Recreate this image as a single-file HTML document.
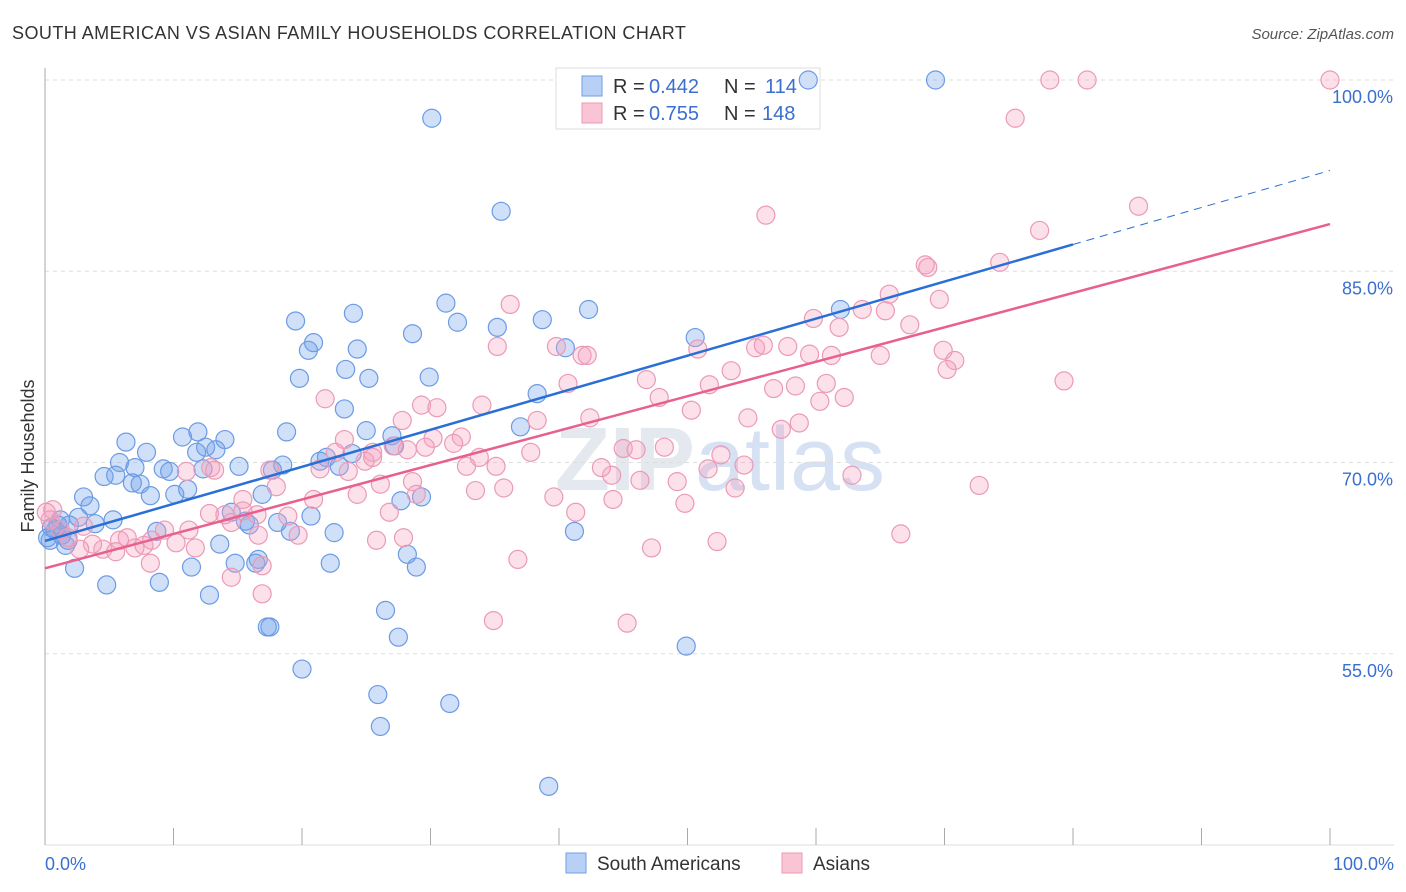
<!DOCTYPE html>
<html><head><meta charset="utf-8"><style>
body{margin:0;background:#fff;font-family:"Liberation Sans",sans-serif}
svg{display:block}
</style></head><body>
<svg id="chart" width="1406" height="892">
<text x="12" y="39" font-size="18" fill="#333" letter-spacing="0.45">SOUTH AMERICAN VS ASIAN FAMILY HOUSEHOLDS CORRELATION CHART</text>
<text x="1394" y="39" font-size="15" fill="#555" text-anchor="end" font-style="italic">Source: ZipAtlas.com</text>
<text x="720" y="490" font-size="90" fill="#e4e8ef" text-anchor="middle" font-weight="bold">ZIP<tspan font-weight="normal" fill="#d6e2f3">atlas</tspan></text>
<g id="grid"></g>
<g id="axes"></g>
<g>
<rect x="556" y="68" width="264" height="61" fill="#fff" stroke="#ddd"/>
<rect x="582" y="76" width="20" height="20" fill="#b8d0f5" stroke="#6f9ee6"/>
<rect x="582" y="103" width="20" height="20" fill="#f9c5d5" stroke="#eb9ab6"/>
<text x="613" y="93" font-size="20" fill="#333">R = </text>
<text x="649" y="93" font-size="20" fill="#3a6fd0">0.442</text>
<text x="724" y="93" font-size="20" fill="#333">N = </text>
<text x="765" y="93" font-size="20" fill="#3a6fd0">114</text>
<text x="613" y="120" font-size="20" fill="#333">R = </text>
<text x="649" y="120" font-size="20" fill="#3a6fd0">0.755</text>
<text x="724" y="120" font-size="20" fill="#333">N = </text>
<text x="762" y="120" font-size="20" fill="#3a6fd0">148</text>
</g>
<g id="pts"></g>
<g id="lines"></g>
<text transform="translate(34,456) rotate(-90)" font-size="18" fill="#333" text-anchor="middle">Family Households</text>
<text x="45" y="870" font-size="18" fill="#3a6fd0">0.0%</text>
<text x="1394" y="870" font-size="18" fill="#3a6fd0" text-anchor="end">100.0%</text>
<g>
<rect x="566" y="853" width="20" height="20" fill="#b8d0f5" stroke="#6f9ee6"/>
<text x="597" y="870" font-size="19" fill="#333">South Americans</text>
<rect x="782" y="853" width="20" height="20" fill="#f9c5d5" stroke="#eb9ab6"/>
<text x="813" y="870" font-size="19" fill="#333">Asians</text>
</g>
</svg>
<script>
const yTicks=[100,85,70,55];
const yTickLabels=["100.0%","85.0%","70.0%","55.0%"];
const blueX=[59.4,69.3,30.1,35.5,19.5,24.0,31.2,32.1,35.2,38.7,42.3,61.9,20.9,20.5,28.6,24.3,40.5,50.6,19.8,23.4,25.2,29.9,38.3,23.3,6.3,7.9,10.7,11.9,14.0,12.5,13.3,11.8,18.8,25.0,27.0,27.2,37.0,5.8,7.0,9.2,9.7,12.3,15.1,17.7,18.5,21.4,21.9,22.9,23.9,4.6,5.5,6.8,7.4,8.2,10.1,11.1,16.9,3.0,3.5,2.6,3.9,5.3,14.5,15.6,15.9,18.1,19.1,20.7,22.5,27.7,29.3,8.7,13.6,11.4,2.3,4.8,8.9,12.8,14.8,16.4,16.6,22.2,28.2,28.9,41.2,26.5,17.3,17.5,27.5,49.9,20.0,25.9,31.5,26.1,39.2,0.8,1.2,1.6,0.4,1.9,1.3,1.0,0.5,1.8,0.2];
const blueY=[100,100,97.0,89.7,81.1,81.7,82.5,81.0,80.6,81.2,82.0,82.0,79.4,78.8,80.1,78.9,79.0,79.8,76.6,77.3,76.6,76.7,75.4,74.2,71.6,70.8,72.0,72.4,71.8,71.2,71.0,70.8,72.4,72.5,72.1,71.3,72.8,70.0,69.6,69.5,69.3,69.5,69.7,69.4,69.8,70.1,70.4,69.7,70.7,68.9,69.0,68.4,68.3,67.4,67.5,67.9,67.5,67.3,66.6,65.7,65.2,65.5,66.1,65.4,65.1,65.3,64.6,65.8,64.5,67.0,67.3,64.6,63.6,61.8,61.7,60.4,60.6,59.6,62.1,62.1,62.4,62.1,62.8,61.8,64.6,58.4,57.1,57.1,56.3,55.6,53.8,51.8,51.1,49.3,44.6,64.7,65.5,63.5,63.9,65.1,64.3,65.1,64.9,63.9,64.1];
const pinkX=[78.2,81.1,100,75.5,85.1,56.1,77.4,68.5,68.7,74.3,65.7,69.6,36.2,65.4,63.6,67.3,59.8,61.8,35.2,39.8,41.8,42.2,50.8,55.3,55.9,57.8,59.5,61.2,65.0,69.9,70.8,70.2,53.4,46.8,40.7,34.0,21.8,29.3,30.5,27.8,51.7,56.7,58.4,60.8,62.2,60.3,79.3,47.8,50.3,38.3,54.7,58.7,23.3,30.2,32.4,57.3,25.5,27.1,28.2,31.8,33.8,29.6,42.4,48.2,45.0,46.0,37.8,22.6,24.9,23.6,21.4,25.5,26.1,28.6,32.8,35.1,44.1,43.3,46.3,49.2,51.6,52.6,54.4,53.7,62.8,72.7,17.5,12.9,13.2,11.0,18.0,15.4,33.5,35.7,39.6,44.2,49.8,28.9,20.9,24.3,26.8,41.3,15.4,12.8,14.0,14.5,16.5,16.6,18.9,19.7,11.2,9.3,10.2,11.7,5.8,6.4,7.0,7.7,8.3,4.5,3.7,5.5,1.8,3.0,2.7,8.2,14.5,16.9,16.9,25.8,27.9,36.8,34.9,45.3,47.2,52.3,66.6,0.6,0.4,1.2,0.1];
const pinkY=[100,100,100,97.0,90.1,89.4,88.2,85.5,85.3,85.7,83.2,82.8,82.4,81.9,82.0,80.8,81.3,80.6,79.1,79.1,78.4,78.4,78.9,79.0,79.2,79.1,78.5,78.4,78.4,78.8,78.0,77.3,77.2,76.5,76.2,74.5,75.0,74.5,74.3,73.3,76.1,75.8,76.0,76.2,75.1,74.8,76.4,75.1,74.1,73.3,73.5,73.1,71.8,71.9,72.0,72.6,70.8,71.3,71.0,71.5,70.4,71.2,73.5,71.2,71.1,71.0,70.8,70.8,70.1,69.3,69.5,70.4,68.3,68.5,69.7,69.7,69.0,69.6,68.6,68.5,69.5,70.6,69.8,68.0,69.0,68.2,69.4,69.6,69.4,69.3,68.1,67.1,67.8,68.0,67.3,67.1,66.8,67.5,67.1,67.5,66.1,66.1,66.2,66.0,65.9,65.3,65.9,64.3,65.8,64.3,64.7,64.7,63.7,63.3,63.9,64.1,63.3,63.5,63.9,63.2,63.6,63.0,64.1,65.0,63.2,62.1,61.0,61.9,59.7,63.9,64.1,62.4,57.6,57.4,63.3,63.8,64.4,66.3,65.5,64.7,66.1];
const blueTrend=[[0,63.85],[80,87.1]];
const blueTrendExt=[[80,87.1],[100,92.9]];
const pinkTrend=[[0,61.7],[100,88.7]];

const NS="http://www.w3.org/2000/svg";
const X=v=>45+v*12.85;
const Y=v=>80+(100-v)*12.75;
function mk(tag,attrs,parent){const e=document.createElementNS(NS,tag);for(const k in attrs)e.setAttribute(k,attrs[k]);parent.appendChild(e);return e;}
const grid=document.getElementById('grid'),axes=document.getElementById('axes'),pts=document.getElementById('pts'),lines=document.getElementById('lines');
yTicks.forEach((t,i)=>{
  const l=mk('line',{x1:45,x2:1394,y1:Y(t),y2:Y(t),stroke:'#ddd','stroke-dasharray':'4,4'},grid);
  
  
  const tx=mk('text',{x:1393,y:Y(t)+23,'font-size':18,fill:'#3a6fd0','text-anchor':'end'},grid);
  tx.textContent=yTickLabels[i];
  
  
});
const ya=mk('line',{x1:45,x2:45,y1:68,y2:845,stroke:'#aaa'},axes);


const xa=mk('line',{x1:45,x2:1394,y1:845,y2:845,stroke:'#ddd'},axes);


for(let i=0;i<=10;i++){
  const t=mk('line',{x1:X(i*10),x2:X(i*10),y1:828,y2:845,stroke:'#aaa'},axes);
  
  
}
function dots(xs,ys,fill,stroke,name){
  xs.forEach((x,i)=>{
    const c=mk('circle',{cx:X(x),cy:Y(ys[i]),r:9,fill:fill,stroke:stroke,'stroke-width':1.2},pts);
    
    
  });
}
dots(blueX,blueY,'rgba(110,160,235,0.33)','#6c9be4','south-american-point');
dots(pinkX,pinkY,'rgba(245,160,190,0.33)','#eb9ab6','asian-point');
function line(p,stroke,w,dash,name){
  const l=mk('line',{x1:X(p[0][0]),y1:Y(p[0][1]),x2:X(p[1][0]),y2:Y(p[1][1]),stroke:stroke,'stroke-width':w},lines);
  if(dash)l.setAttribute('stroke-dasharray',dash);
  
  
}
line(pinkTrend,'#e8608d',2.5,null,'asian-trend-line');
line(blueTrend,'#2a6fd6',2.5,null,'south-american-trend-line');
line(blueTrendExt,'#2a6fd6',1,'8,6','south-american-trend-extension');
</script>
</body></html>
